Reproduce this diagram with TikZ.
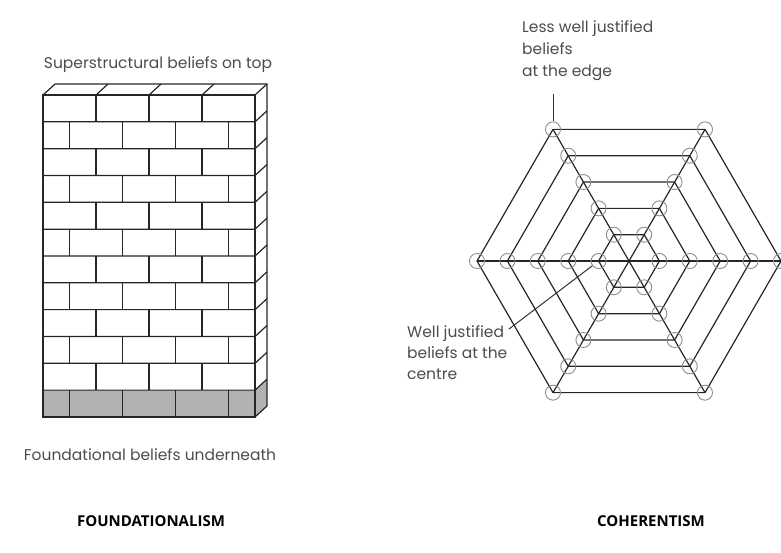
\documentclass[tikz,border=0pt]{standalone}
\usepackage{fontspec}
\setmainfont{Poppins}
\newfontfamily\titlefont{Open Sans}
\usetikzlibrary{calc}

\tikzset{
  brick/.style={line width=1.2pt, draw=black!85},
  web/.style={line width=1.2pt, draw=black!85},
  pointer/.style={line width=1pt, draw=black!80},
  belief/.style={circle, draw=black!45, line width=0.9pt, minimum size=15pt, inner sep=0pt},
  caption/.style={text=black!70, font=\fontsize{15.5}{22}\selectfont, inner sep=0pt},
  title/.style={font=\titlefont\bfseries\fontsize{15}{18}\selectfont, inner sep=0pt}
}

\begin{document}
\begin{tikzpicture}[x=1pt, y=-1pt]
    \useasboundingbox (0,0) rectangle (781,552);

    % wall
    \coordinate (W1) at (43,95);
    \coordinate (W2) at (255,95);
    \coordinate (W3) at (255,417);
    \coordinate (W4) at (43,417);
    \coordinate (F) at (43,390.2);

    \fill[black!30] (F) rectangle (W3);
    \fill[black!30] (F -| W3) -- ++(12,-11) -- ($(W3)+(12,-11)$) -- (W3) -- cycle;

    \foreach \i in {1,...,11}
      \draw[brick] (43,95+\i*26.83) -- ++(212,0) -- ++(12,-11);

    \foreach \i in {0,...,11}{
      \pgfmathsetmacro\yt{95+\i*26.83}
      \ifodd\i
        \foreach \x in {69.5,122.5,175.5,228.5} \draw[brick] (\x,\yt) -- ++(0,26.83);
      \else
        \foreach \x in {96,149,202} \draw[brick] (\x,\yt) -- ++(0,26.83);
      \fi
    }

    \foreach \x in {43,96,149,202} \draw[brick] (\x,95) -- ++(12,-11);
    \draw[brick] (W1) rectangle (W3);
    \draw[brick] (W1) ++(12,-11) -- ($(W2)+(12,-11)$) -- ($(W3)+(12,-11)$) -- (W3);
    \draw[brick] (W2) -- ++(12,-11);

    \node[caption] (toplbl) at (158,65) {Superstructural beliefs on top};
    \node[caption] (footlbl) at (150,455) {Foundational beliefs underneath};

    % web
    \coordinate (c) at (629,261);
    \foreach \k in {1,...,5}
      \foreach \j in {0,...,5}
        \coordinate (v-\k-\j) at ($(c)+(\j*60:\k*30.4)$);

    \foreach \k in {1,...,5}
      \draw[web] (v-\k-0) -- (v-\k-1) -- (v-\k-2) -- (v-\k-3) -- (v-\k-4) -- (v-\k-5) -- cycle;
    \foreach \j in {0,1,2}{
      \pgfmathtruncatemacro\jj{\j+3}
      \draw[web] (v-5-\j) -- (v-5-\jj);
    }

    \foreach \k in {1,...,5}
      \foreach \j in {0,...,5}
        \node[belief] (b-\k-\j) at (v-\k-\j) {};

    \node[caption, align=left, anchor=north west] (edgelbl) at (522,20) {Less well justified\\beliefs\\at the edge};
    \coordinate (edgetip) at ($(b-5-4.north)+(0,-27)$);
    \draw[pointer] (edgetip) -- (b-5-4.north);

    \node[caption, align=left, anchor=north west, font=\fontsize{15.5}{21}\selectfont] (centrelbl) at (407,325) {Well justified\\beliefs at the\\centre};
    \coordinate (centretip) at (509,329);
    \draw[pointer] (centretip) -- (b-1-3);

    \node[title] (lefttitle) at (151,521) {FOUNDATIONALISM};
    \node[title] (righttitle) at (651,521) {COHERENTISM};
\end{tikzpicture}
\end{document}
